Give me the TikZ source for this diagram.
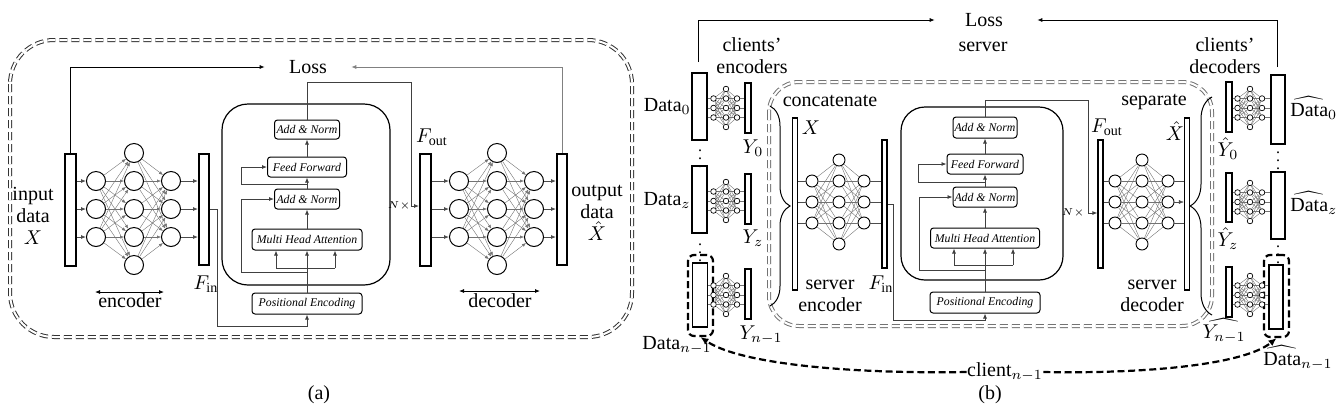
\documentclass[tikz,border=0pt]{standalone}
\usepackage{amsmath}
\usepackage{fontspec}
\setmainfont{Liberation Serif}
\usetikzlibrary{arrows.meta,decorations.pathreplacing,calc}
\begin{document}
\begin{tikzpicture}[x=0.5pt,y=-0.5pt,
  lbl/.style={font=\fontsize{10}{11}\selectfont, inner sep=0pt, align=center},
  databox/.style={draw, line width=1pt, inner sep=0pt, fill=white},
  thinbox/.style={draw, line width=0.65pt, inner sep=0pt, fill=white},
  tbox/.style={draw, rounded corners=1.5pt, line width=0.5pt, inner sep=0pt, fill=white, font=\fontsize{5.9}{6}\selectfont\itshape},
  tblock/.style={draw, rounded corners=13pt, line width=0.6pt, inner sep=0pt},
  neu/.style={circle, draw, line width=0.5pt, minimum size=9.5pt, inner sep=0pt, fill=white},
  neub/.style={circle, draw, line width=0.45pt, minimum size=6pt, inner sep=0pt, fill=white},
  neus/.style={circle, draw, line width=0.35pt, minimum size=2.8pt, inner sep=0pt, fill=white},
  syn/.style={draw=black!55, line width=0.2pt},
  synarr/.style={-{Latex[length=2pt,width=1.6pt]}},
  arr/.style={-{Latex[length=2.5pt,width=2pt]}, line width=0.4pt},
  conn/.style={draw=black!75, line width=0.4pt},
  dblborder/.style={double=white, double distance=1pt, line width=0.5pt, dash pattern=on 4pt off 2pt},
  thickdash/.style={line width=1.1pt, dash pattern=on 3.5pt off 1.8pt},
  nx/.style={font=\fontsize{5}{5}\selectfont, inner sep=0pt}
]
\useasboundingbox (0,0) rectangle (1344,414);

%================ PANEL (a) ================
\draw[dblborder, draw=black!80, rounded corners=22pt] (10,40) rectangle (632,337);

% data boxes
\node[databox, minimum width=5.5pt, minimum height=56pt] (inA) at (70.5,210) {};
\node[databox, minimum width=5pt, minimum height=55.5pt] (finA) at (204,209.5) {};
\node[databox, minimum width=5.5pt, minimum height=56pt] (foutA) at (425.5,210) {};
\node[databox, minimum width=5pt, minimum height=55.5pt] (outA) at (562,209) {};

% encoder / decoder neurons
\foreach \i/\y in {1/181,2/209,3/237} {
  \node[neu] (ea1\i) at (96,\y) {};
  \node[neu] (ea3\i) at (171,\y) {};
  \node[neu] (da1\i) at (459,\y) {};
  \node[neu] (da3\i) at (534,\y) {};
}
\foreach \j/\y in {1/153,2/181,3/209,4/237,5/265} {
  \node[neu] (ea2\j) at (134,\y) {};
  \node[neu] (da2\j) at (497,\y) {};
}
\foreach \i in {1,2,3} {
  \foreach \j in {1,...,5} {
    \draw[syn, synarr] (ea1\i) -- (ea2\j);
    \draw[syn, synarr] (ea2\j) -- (ea3\i);
    \draw[syn, synarr] (da1\i) -- (da2\j);
    \draw[syn, synarr] (da2\j) -- (da3\i);
  }
  \draw[arr, draw=black!70] (inA.east |- ea1\i) -- (ea1\i);
  \draw[arr, draw=black!70] (ea3\i) -- (finA.west |- ea3\i);
  \draw[arr, draw=black!70] (foutA.east |- da1\i) -- (da1\i);
  \draw[arr, draw=black!70] (da3\i) -- (outA.west |- da3\i);
}

% labels
\node[lbl] (inlab) at (33,216) {input\\data\\$X$};
\node[lbl] (outlab) at (597,213) {output\\data\\$\hat{X}$};
\node[lbl] (finlabA) at (206,284) {$F_{\mathrm{in}}$};
\node[lbl] (foutlabA) at (432,137) {$F_{\mathrm{out}}$};
\node[lbl] (lossA) at (308,67) {Loss};
\node[lbl] (enclab) at (130,301) {encoder};
\node[lbl] (declab) at (500,301) {decoder};
\node[lbl] (alab) at (319,395) {(a)};
\coordinate (encL) at (95,292); \coordinate (encR) at (164,292);
\coordinate (decL) at (459,291); \coordinate (decR) at (540,291);
\draw[{Latex[length=2.5pt,width=2pt]}-{Latex[length=2.5pt,width=2pt]}, line width=0.4pt] (encL) -- (encR);
\draw[{Latex[length=2.5pt,width=2pt]}-{Latex[length=2.5pt,width=2pt]}, line width=0.4pt] (decL) -- (decR);

% loss arrows
\draw[arr] (inA.north) |- ([xshift=-12pt]lossA.west);
\draw[arr, draw=black!50] (outA.north) |- ([xshift=12pt]lossA.east);

% transformer (a)
\node[tblock, minimum width=84pt, minimum height=90.5pt] (tA) at (306,194.5) {};
\node[tbox, minimum width=32.5pt, minimum height=9.5pt] (anA2) at (307,129.5) {Add \& Norm};
\node[tbox, minimum width=39.5pt, minimum height=10pt] (ffA) at (307,167) {Feed Forward};
\node[tbox, minimum width=32.5pt, minimum height=10pt] (anA1) at (307,199) {Add \& Norm};
\node[tbox, minimum width=55pt, minimum height=10.5pt] (mhaA) at (307,239.5) {Multi Head Attention};
\node[tbox, minimum width=55pt, minimum height=10.5pt] (peA) at (307,303.5) {Positional Encoding};
\node[nx] (nxA) at (399,206) {$N\times$};

\draw[conn, arr] (peA) -- (mhaA);
\coordinate (brAl) at (276,268); \coordinate (brAr) at (335,268);
\draw[conn] (brAl) -- (brAr);
\draw[conn, arr] (brAl) -- (brAl |- mhaA.south);
\draw[conn, arr] (brAr) -- (brAr |- mhaA.south);
\coordinate (rsA1) at (241,272);
\draw[conn, arr] (peA.north |- rsA1) -- (rsA1) |- (anA1.west);
\draw[conn, arr] (mhaA) -- (anA1);
\draw[conn, arr] (anA1) -- (ffA);
\coordinate (rsA2) at (241,184);
\draw[conn, arr] (anA1.north |- rsA2) -- (rsA2) |- (ffA.west);
\draw[conn, arr] (ffA) -- (anA2);
\coordinate (tpA) at (411,82);
\draw[conn, arr] (anA2.north) |- (tpA) |- ([yshift=2pt]foutA.west);
\coordinate (fiA) at (217,326);
\draw[conn, arr] (finA.east) -| (fiA) -| (peA.south);

%================ PANEL (b) ================
\draw[dblborder, draw=black!55, rounded corners=15pt] (769,82) rectangle (1212,326);

\node[lbl] (lossB) at (984,20) {Loss};
\node[lbl] (serverlab) at (983,47) {server};
\node[lbl] (cencl) at (752,56) {clients'\\encoders};
\node[lbl] (cdecl) at (1225,56) {clients'\\decoders};
\node[lbl] (concl) at (830,101) {concatenate};
\node[lbl] (sepl) at (1154,102) {separate};
\node[lbl] (sencl) at (830,296) {server\\encoder};
\node[lbl] (sdecl) at (1152,296) {server\\decoder};
\node[lbl] (blab) at (990,395) {(b)};

% client encoder boxes
\node[thinbox, minimum width=7.5pt, minimum height=33.5pt] (cd0) at (699.5,106.5) {};
\node[thinbox, minimum width=7.5pt, minimum height=33.5pt] (cdz) at (699.5,199.5) {};
\node[thinbox, minimum width=7.5pt, minimum height=32pt] (cdn) at (700,295) {};
\node[thinbox, minimum width=3pt, minimum height=25pt] (cy0) at (748,108) {};
\node[thinbox, minimum width=3pt, minimum height=25pt] (cyz) at (748,199) {};
\node[thinbox, minimum width=3pt, minimum height=25pt] (cyn) at (748,294) {};
\node[draw, thickdash, rounded corners=3pt, minimum width=12.5pt, minimum height=40.5pt] (cdnd) at (700.5,295.5) {};

% client decoder boxes
\node[thinbox, minimum width=3pt, minimum height=25pt] (hy0) at (1229,107) {};
\node[thinbox, minimum width=3pt, minimum height=24.5pt] (hyz) at (1229,197.5) {};
\node[thinbox, minimum width=3pt, minimum height=25pt] (hyn) at (1229,292) {};
\node[thinbox, minimum width=7pt, minimum height=34.5pt] (hd0) at (1278,109.5) {};
\node[thinbox, minimum width=7pt, minimum height=33.5pt] (hdz) at (1278,205.5) {};
\node[thinbox, minimum width=7pt, minimum height=32pt] (hdn) at (1276,297) {};
\node[draw, thickdash, rounded corners=3pt, minimum width=12.5pt, minimum height=41pt] (hdnd) at (1276.5,296) {};

% client small nets
\foreach \n/\c in {0/108,z/201,n/295} {
  \foreach \k/\d in {1/-9.5,2/0,3/9.5} {
    \node[neus] (ce1\n\k) at (713.5,{\c+(\d)}) {};
    \node[neus] (ce3\n\k) at (737,{\c+(\d)}) {};
  }
  \foreach \m/\d in {1/-19,2/-9.5,3/0,4/9.5,5/19} {
    \node[neus] (ce2\n\m) at (726,{\c+(\d)}) {};
  }
  \foreach \k in {1,2,3} {
    \foreach \m in {1,...,5} {
      \draw[syn] (ce1\n\k) -- (ce2\n\m);
      \draw[syn] (ce2\n\m) -- (ce3\n\k);
    }
    \draw[syn] (cd\n.east |- ce1\n\k) -- (ce1\n\k);
    \draw[syn] (ce3\n\k) -- (cy\n.west |- ce3\n\k);
  }
}
\foreach \n/\c in {0/108,z/202,n/295} {
  \foreach \k/\d in {1/-9.5,2/0,3/9.5} {
    \node[neus] (hc1\n\k) at (1237.5,{\c+(\d)}) {};
    \node[neus] (hc3\n\k) at (1262,{\c+(\d)}) {};
  }
  \foreach \m/\d in {1/-19,2/-9.5,3/0,4/9.5,5/19} {
    \node[neus] (hc2\n\m) at (1250,{\c+(\d)}) {};
  }
  \foreach \k in {1,2,3} {
    \foreach \m in {1,...,5} {
      \draw[syn] (hc1\n\k) -- (hc2\n\m);
      \draw[syn] (hc2\n\m) -- (hc3\n\k);
    }
    \draw[syn] (hy\n.east |- hc1\n\k) -- (hc1\n\k);
    \draw[syn] (hc3\n\k) -- (hd\n.west |- hc3\n\k);
  }
}

% client labels
\node[lbl, anchor=east] (ld0) at (691,106) {Data$_0$};
\node[lbl, anchor=east] (ldz) at (691,200) {Data$_z$};
\node[lbl] (ldn) at (677,345) {Data$_{n-1}$};
\node[lbl] (ly0) at (753,148) {$Y_0$};
\node[lbl] (lyz) at (753,238) {$Y_z$};
\node[lbl] (lyn) at (761,335) {$Y_{n-1}$};
\node[lbl] (lhy0) at (1228,149) {$\hat{Y}_0$};
\node[lbl] (lhyz) at (1228,239) {$\hat{Y}_z$};
\node[lbl] (lhyn) at (1224,331) {$\widehat{Y_{n-1}}$};
\node[lbl, anchor=west] (lhd0) at (1290,108) {$\widehat{\text{Data}}_0$};
\node[lbl, anchor=west] (lhdz) at (1290,203) {$\widehat{\text{Data}}_z$};
\node[lbl] (lhdn) at (1298,358) {$\widehat{\text{Data}}_{n-1}$};
\node[font=\fontsize{8}{8}\selectfont, inner sep=0pt] (vd1) at (700,153) {$\vdots$};
\node[font=\fontsize{8}{8}\selectfont, inner sep=0pt] (vd2) at (700,247) {$\vdots$};
\node[font=\fontsize{8}{8}\selectfont, inner sep=0pt] (vd3) at (1278,155) {$\vdots$};
\node[font=\fontsize{8}{8}\selectfont, inner sep=0pt] (vd4) at (1278,249) {$\vdots$};

% loss arrows (b)
\coordinate (lsL) at (698,62); \coordinate (lsR) at (1277,67);
\draw[arr] (lsL) |- ([xshift=-15pt]lossB.west);
\draw[arr] (lsR) |- ([xshift=17pt]lossB.east);

% client curve
\node[lbl] (clab) at (1005,372) {client$_{n-1}$};
\draw[thickdash, -{Latex[length=4pt,width=3.5pt]}] (clab.west) .. controls (850,374) and (740,364) .. (cdnd.south);
\draw[thickdash, -{Latex[length=4pt,width=3.5pt]}] (clab.east) .. controls (1150,374) and (1245,364) .. (hdnd.south);

% braces
\coordinate (bl1) at (770,106); \coordinate (bl2) at (770,306);
\coordinate (br1) at (1212,315); \coordinate (br2) at (1212,97);
\draw[decorate, decoration={brace, amplitude=10pt}, line width=0.5pt] (bl1) -- (bl2);
\draw[decorate, decoration={brace, amplitude=11pt}, line width=0.5pt] (br1) -- (br2);

% server boxes
\node[thinbox, minimum width=2.5pt, minimum height=86pt] (xB) at (795,204) {};
\node[thinbox, minimum width=2.5pt, minimum height=64pt] (finB) at (884.5,204) {};
\node[thinbox, minimum width=2.5pt, minimum height=64pt] (foutB) at (1100.5,204) {};
\node[thinbox, minimum width=2.5pt, minimum height=86pt] (xhB) at (1187,204) {};
\node[lbl] (lxB) at (811,128) {$X$};
\node[lbl] (lxhB) at (1175,131) {$\hat{X}$};
\node[lbl] (lfinB) at (881,284) {$F_{\mathrm{in}}$};
\node[lbl] (lfoutB) at (1107,127) {$F_{\mathrm{out}}$};

% server nets
\foreach \i/\y in {1/181,2/202,3/223} {
  \node[neub] (se1\i) at (812,\y) {};
  \node[neub] (se3\i) at (864,\y) {};
  \node[neub] (sd1\i) at (1115,\y) {};
  \node[neub] (sd3\i) at (1168,\y) {};
}
\foreach \j/\y in {1/160,2/181,3/202,4/223,5/244} {
  \node[neub] (se2\j) at (839,\y) {};
  \node[neub] (sd2\j) at (1142,\y) {};
}
\foreach \i in {1,2,3} {
  \foreach \j in {1,...,5} {
    \draw[syn] (se1\i) -- (se2\j);
    \draw[syn] (se2\j) -- (se3\i);
    \draw[syn] (sd1\i) -- (sd2\j);
    \draw[syn] (sd2\j) -- (sd3\i);
  }
  \draw[syn, draw=black!70] (xB.east |- se1\i) -- (se1\i);
  \draw[syn, draw=black!70] (se3\i) -- (finB.west |- se3\i);
  \draw[syn, draw=black!70] (foutB.east |- sd1\i) -- (sd1\i);
}
\draw[syn, draw=black!70] (sd31) -- (xhB.west |- sd31);
\draw[syn, draw=black!70, -{Latex[length=2.5pt,width=2pt]}] (sd32) -- (xhB.west |- sd32);
\draw[syn, draw=black!70] (sd33) -- (xhB.west |- sd33);

% transformer (b)
\node[tblock, rounded corners=12pt, minimum width=81pt, minimum height=86.5pt] (tB) at (982,193.5) {};
\node[tbox, minimum width=32pt, minimum height=10.5pt] (anB2) at (985,127.5) {Add \& Norm};
\node[tbox, minimum width=38pt, minimum height=10pt] (ffB) at (985,164) {Feed Forward};
\node[tbox, minimum width=32pt, minimum height=10pt] (anB1) at (985,197) {Add \& Norm};
\node[tbox, minimum width=54.5pt, minimum height=10pt] (mhaB) at (985,238) {Multi Head Attention};
\node[tbox, minimum width=55pt, minimum height=10.5pt] (peB) at (985,302.5) {Positional Encoding};
\node[nx] (nxB) at (1073,213) {$N\times$};

\draw[conn, arr] (peB) -- (mhaB);
\coordinate (brBl) at (954,265); \coordinate (brBr) at (1013,265);
\draw[conn] (brBl) -- (brBr);
\draw[conn, arr] (brBl) -- (brBl |- mhaB.south);
\draw[conn, arr] (brBr) -- (brBr |- mhaB.south);
\coordinate (rsB1) at (919,270);
\draw[conn, arr] (peB.north |- rsB1) -- (rsB1) |- (anB1.west);
\draw[conn, arr] (mhaB) -- (anB1);
\draw[conn, arr] (anB1) -- (ffB);
\coordinate (rsB2) at (918,182);
\draw[conn, arr] (anB1.north |- rsB2) -- (rsB2) |- (ffB.west);
\draw[conn, arr] (ffB) -- (anB2);
\coordinate (tpB) at (1088,100);
\draw[conn, arr] (anB2.north) |- (tpB) |- ([yshift=-4.5pt]foutB.west);
\coordinate (fiB) at (893,320);
\draw[conn, arr] (finB.east) -| (fiB) -| (peB.south);

\end{tikzpicture}
\end{document}
